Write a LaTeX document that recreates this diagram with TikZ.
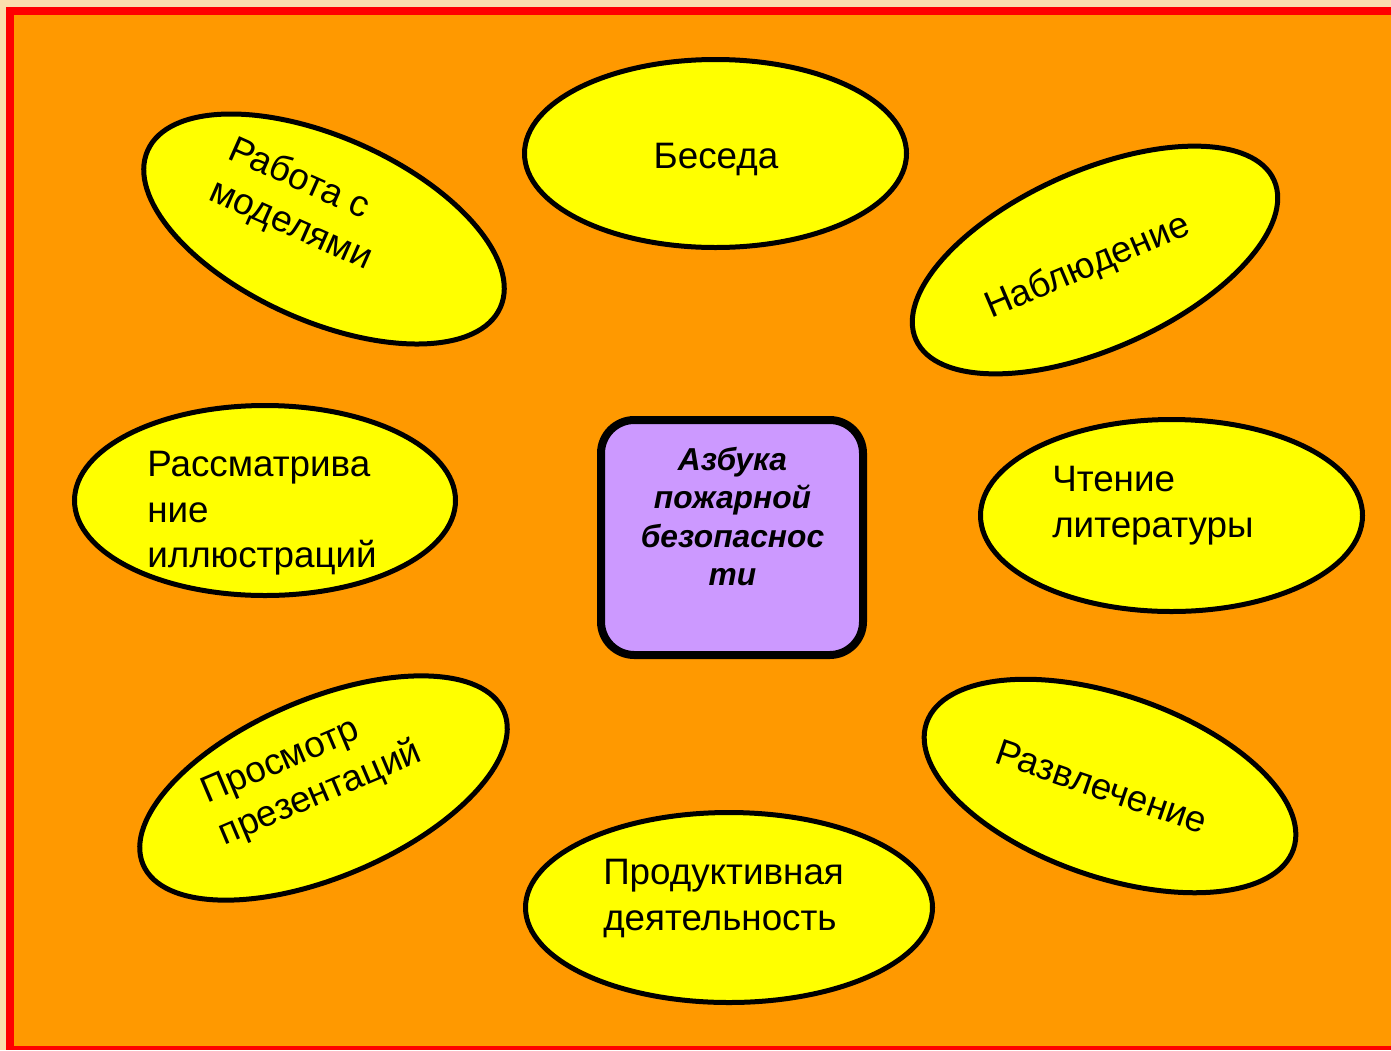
\documentclass[tikz,border=0pt]{standalone}
\usepackage{fontspec}
\setmainfont{Liberation Sans}
\usetikzlibrary{shapes.geometric}
\definecolor{creambg}{HTML}{FADFAE}
\definecolor{redframe}{HTML}{FF0000}
\definecolor{slideorange}{HTML}{FF9900}
\definecolor{ovalyellow}{HTML}{FFFF00}
\definecolor{lilac}{HTML}{CC99FF}
\tikzset{
  ovalnode/.style={ellipse, draw=black, line width=3.75pt, fill=ovalyellow, inner sep=0pt},
  lbl/.style={inner sep=0pt, text=black, font=\fontsize{27.6}{34}\selectfont},
  mainbox/.style={rectangle, draw=black, line width=6pt, fill=lilac, rounded corners=25pt, inner sep=0pt},
  mainlbl/.style={inner sep=0pt, text=black, align=center, font=\bfseries\itshape\fontsize{23.8}{28.9}\selectfont}
}
\begin{document}
\begin{tikzpicture}[x=0.75pt,y=-0.75pt]
\useasboundingbox (0,0) rectangle (1391,1050);
\fill[creambg] (0,0) rectangle (1391,1050);
\fill[redframe] (6,7) rectangle (1391,1050);
\fill[slideorange] (14,15) rectangle (1391,1046);

% ovals
\node[ovalnode, minimum width=286.5pt, minimum height=141pt] (beseda) at (715.5,153.5) {};
\node[ovalnode, minimum width=294pt, minimum height=133.5pt, rotate=24] (nabl) at (1095,260) {};
\node[ovalnode, minimum width=289.5pt, minimum height=138pt, rotate=-24] (rabota) at (324,229) {};
\node[ovalnode, minimum width=285.75pt, minimum height=142.5pt] (rassm) at (265,500.5) {};
\node[ovalnode, minimum width=286.5pt, minimum height=144pt] (chtenie) at (1171.5,515.5) {};
\node[ovalnode, minimum width=294pt, minimum height=133.5pt, rotate=23] (prosmotr) at (323.5,788) {};
\node[ovalnode, minimum width=291pt, minimum height=136.5pt, rotate=-19] (razvl) at (1110,786) {};
\node[ovalnode, minimum width=305.25pt, minimum height=142.5pt] (produkt) at (729,907.5) {};

% labels
\node[lbl, anchor=base] (tbeseda) at (716,168) {Беседа};
\node[lbl, rotate=23] (tnabl) at (1088,267) {Наблюдение};
\node[lbl, rotate=-24, align=left] (trabota) at (300,205) {Работа с\\моделями};
\node[lbl, align=left, anchor=north west] (trassm) at (147,451.2) {Рассматрива\\ние\\иллюстраций};
\node[lbl, align=left, anchor=north west] (tchtenie) at (1052,466.2) {Чтение\\литературы};
\node[lbl, rotate=23, align=left] (tprosmotr) at (312,774) {Просмотр\\презентаций};
\node[lbl, rotate=-19] (trazvl) at (1102,786.5) {Развлечение};
\node[lbl, align=left, anchor=north west] (tprodukt) at (603,859.2) {Продуктивная\\деятельность};

% centre
\node[mainbox, minimum width=196.5pt, minimum height=176.25pt] (centre) at (732,537.5) {};
\node[mainlbl, anchor=north] (tcentre) at (732.5,446.7) {Азбука\\пожарной\\безопаснос\\ти};
\end{tikzpicture}
\end{document}
